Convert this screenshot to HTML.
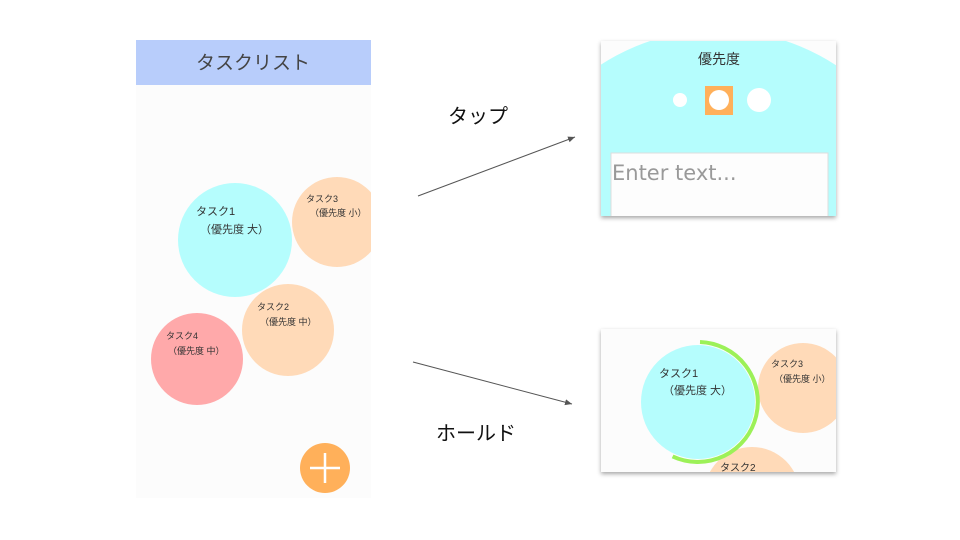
<!DOCTYPE html>
<html><head><meta charset="utf-8"><style>
body{margin:0;background:#fff}
svg{display:block;font-family:"Liberation Sans","Noto Sans CJK JP",sans-serif}
</style></head><body>
<svg width="960" height="540" viewBox="0 0 960 540">
<defs>
<clipPath id="cl"><rect x="136" y="85" width="235" height="413"/></clipPath>
<clipPath id="ct"><rect x="601" y="41" width="235" height="175"/></clipPath>
<clipPath id="cb"><rect x="601" y="329" width="235" height="143"/></clipPath>
<filter id="sh" x="-10%" y="-10%" width="120%" height="130%"><feDropShadow dx="0" dy="2" stdDeviation="2" flood-color="#000" flood-opacity="0.35"/></filter>
<marker id="ar" markerWidth="8" markerHeight="8" refX="7" refY="3" orient="auto"><path d="M0,0 L7,3 L0,6 Z" fill="#555"/></marker>
</defs>
<rect x="136" y="40" width="235" height="458" fill="#fcfcfc"/>
<rect x="136" y="40" width="235" height="45" fill="#b8cdfb"/>
<text x="253" y="69" font-size="19" fill="#444" text-anchor="middle">タスクリスト</text>
<g clip-path="url(#cl)">
<circle cx="235" cy="240" r="57" fill="#b5fdfd"/>
<circle cx="337" cy="222" r="45" fill="#ffdab8"/>
<circle cx="288" cy="330" r="46" fill="#ffdab8"/>
<circle cx="197" cy="359" r="46" fill="#ffa9aa"/>
<circle cx="325" cy="468" r="25" fill="#ffb05a"/>
</g>
<path d="M325 453v30M310 468h30" stroke="#fff" stroke-width="2.5"/>
<g font-size="11" fill="#333">
<text x="196" y="215">タスク1</text><text x="200" y="233">（優先度 大）</text>
<text x="306" y="202" font-size="9">タスク3</text><text x="310" y="216" font-size="9">（優先度 小）</text>
<text x="257" y="310" font-size="9">タスク2</text><text x="260" y="325" font-size="9">（優先度 中）</text>
<text x="166" y="339" font-size="9">タスク4</text><text x="168" y="354" font-size="9">（優先度 中）</text>
</g>
<line x1="418" y1="196" x2="575" y2="137" stroke="#555" stroke-width="1" marker-end="url(#ar)"/>
<line x1="413" y1="362" x2="572" y2="404" stroke="#555" stroke-width="1" marker-end="url(#ar)"/>
<text x="478" y="123" font-size="20" fill="#111" text-anchor="middle">タップ</text>
<text x="476" y="440" font-size="20" fill="#111" text-anchor="middle">ホールド</text>
<rect x="601" y="41" width="235" height="175" fill="#fcfcfc" filter="url(#sh)"/>
<g clip-path="url(#ct)">
<circle cx="718" cy="245" r="215" fill="#b5fdfd"/>
<rect x="611" y="153" width="217" height="70" fill="#fdfdfd" stroke="#ddd"/>
</g>
<text x="719" y="64" font-size="14" fill="#333" text-anchor="middle">優先度</text>
<circle cx="680" cy="100" r="7" fill="#fff"/>
<rect x="705" y="86" width="28" height="29" fill="#ffb05a"/>
<circle cx="719" cy="100" r="10" fill="#fff"/>
<circle cx="759" cy="100" r="12" fill="#fff"/>
<text x="612" y="180" font-size="21" fill="#999" font-family="DejaVu Sans, sans-serif">Enter text...</text>
<rect x="601" y="329" width="235" height="143" fill="#fcfcfc" filter="url(#sh)"/>
<g clip-path="url(#cb)">
<circle cx="803" cy="388" r="45" fill="#ffdab8"/>
<circle cx="752" cy="495" r="48" fill="#ffdab8"/>
<circle cx="698" cy="402" r="57" fill="#b5fdfd"/>
<path d="M700 342 A60 60 0 1 1 672.6 456.4" fill="none" stroke="#9cf158" stroke-width="4"/>
</g>
<g font-size="11" fill="#333">
<text x="659" y="377">タスク1</text><text x="663" y="394">（優先度 大）</text>
<text x="771" y="367" font-size="9">タスク3</text><text x="774" y="382" font-size="9">（優先度 小）</text>
<text x="720" y="471" font-size="10">タスク2</text>
</g>
</svg>
</body></html>
